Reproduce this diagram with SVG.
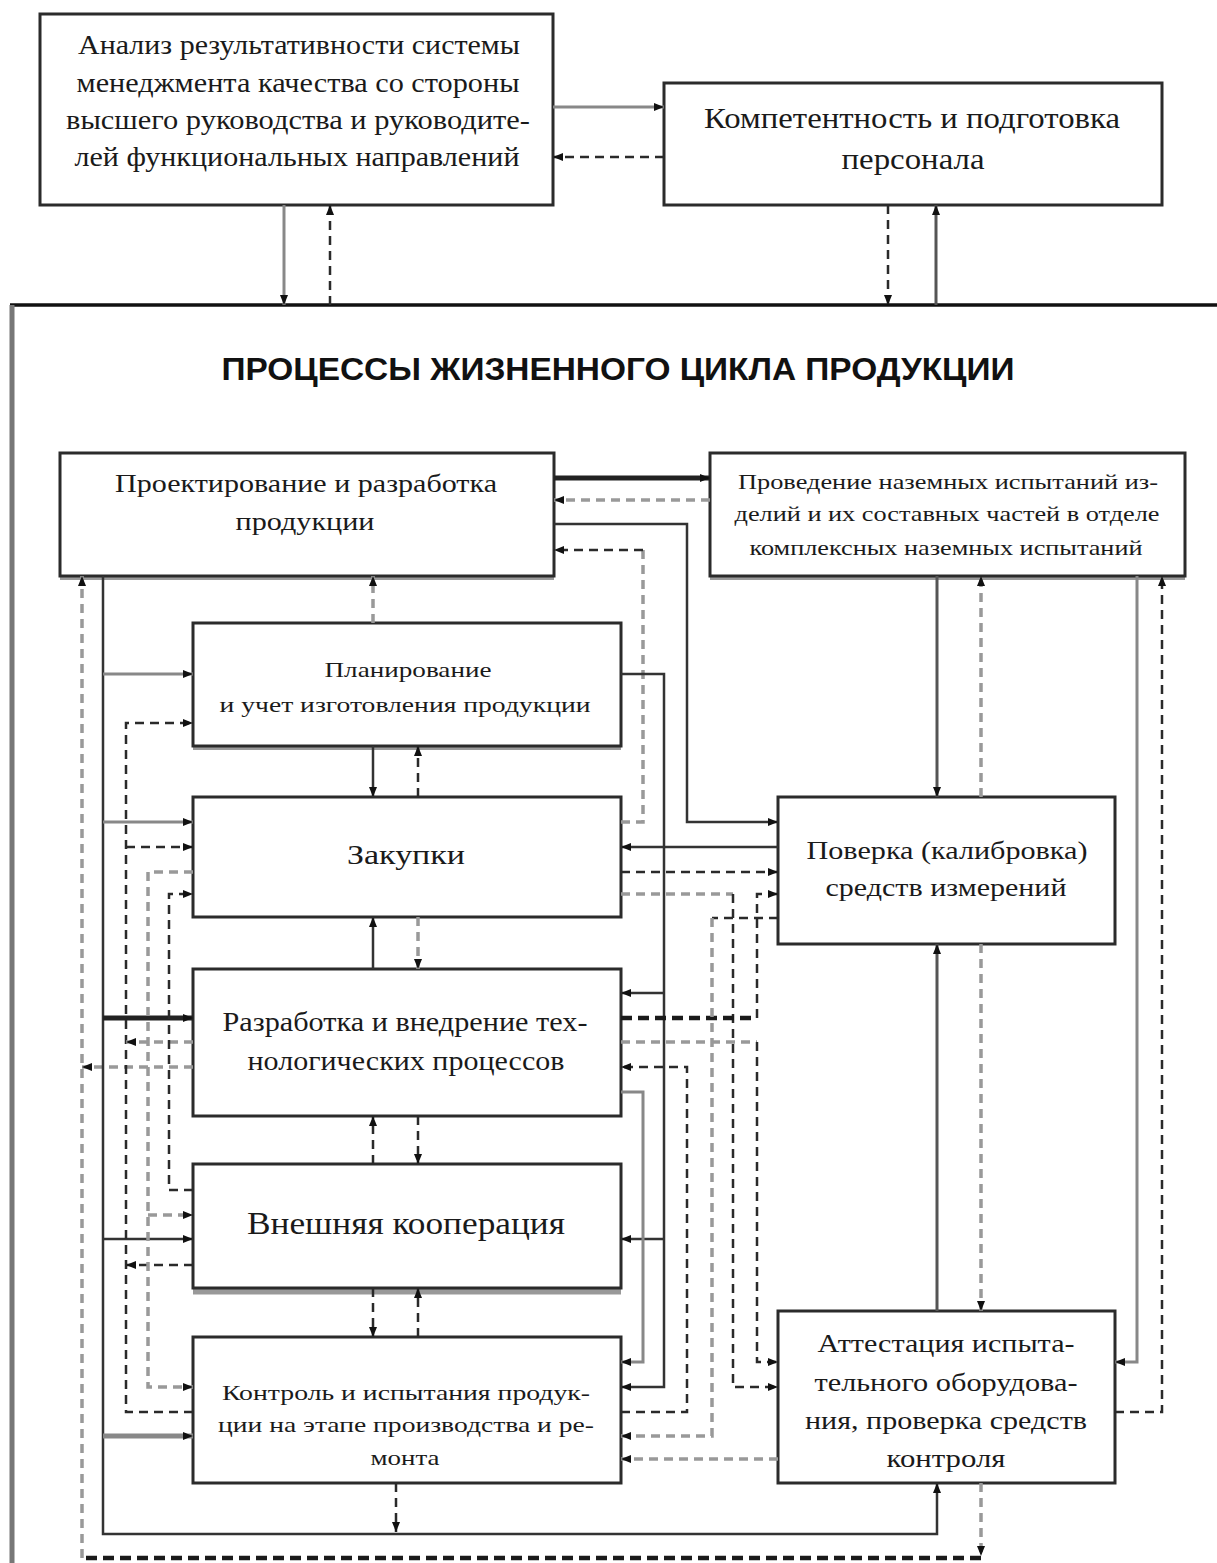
<svg xmlns="http://www.w3.org/2000/svg" width="1217" height="1563" viewBox="0 0 1217 1563">
<style>
.box{fill:#fff;stroke:#2b2b2b;stroke-width:3}
.sh{stroke:#9a9a9a;stroke-width:4;fill:none}
.t{font-family:"Liberation Serif","Times New Roman",serif;fill:#1a1a1a;text-anchor:middle}
.ttl{font-family:"Liberation Sans",Arial,sans-serif;font-weight:bold;fill:#111;text-anchor:middle}
.s1{stroke:#333;stroke-width:2.5;fill:none}
.s2{stroke:#555;stroke-width:3;fill:none}
.g1{stroke:#888;stroke-width:3;fill:none}
.d1{stroke:#2a2a2a;stroke-width:2.5;stroke-dasharray:9 6;fill:none}
.gd{stroke:#999;stroke-width:3.5;stroke-dasharray:9 6;fill:none}
.tk{stroke:#222;stroke-width:5;fill:none}
.tkd{stroke:#1a1a1a;stroke-width:4.5;stroke-dasharray:11 6;fill:none}
.tg{stroke:#888;stroke-width:5;fill:none}
</style>
<defs>
<marker id="ar" viewBox="0 0 10 10" refX="10" refY="5" markerWidth="10" markerHeight="10" markerUnits="userSpaceOnUse" orient="auto"><path d="M0,1 L10,5 L0,9 z" fill="#111"/></marker>
</defs>
<rect width="1217" height="1563" fill="#fff"/>

<g id="frame">
<path d="M10,305 H1217" stroke="#111" stroke-width="3.5" fill="none"/>
<path d="M12,305 V1563" stroke="#777" stroke-width="5" fill="none"/>
<text class="ttl" x="618" y="380" font-size="32" textLength="793" lengthAdjust="spacingAndGlyphs">ПРОЦЕССЫ ЖИЗНЕННОГО ЦИКЛА ПРОДУКЦИИ</text>
</g>

<g id="node-analysis">
<rect class="box" x="40" y="14" width="513" height="191"/>
<text class="t" font-size="27"><tspan x="299" y="54" textLength="442" lengthAdjust="spacingAndGlyphs">Анализ результативности системы</tspan><tspan x="298" y="92" textLength="443" lengthAdjust="spacingAndGlyphs">менеджмента качества со стороны</tspan><tspan x="298" y="129" textLength="464" lengthAdjust="spacingAndGlyphs">высшего руководства и руководите-</tspan><tspan x="297" y="166" textLength="445" lengthAdjust="spacingAndGlyphs">лей функциональных направлений</tspan></text>
</g>

<g id="node-competence">
<rect class="box" x="664" y="83" width="498" height="122"/>
<text class="t" font-size="29"><tspan x="912" y="128" textLength="416" lengthAdjust="spacingAndGlyphs">Компетентность и подготовка</tspan><tspan x="913" y="169" textLength="143" lengthAdjust="spacingAndGlyphs">персонала</tspan></text>
</g>

<g id="node-design">
<path class="sh" d="M60,578 H554"/>
<rect class="box" x="60" y="453" width="494" height="123"/>
<text class="t" font-size="26"><tspan x="306" y="492" textLength="382" lengthAdjust="spacingAndGlyphs">Проектирование и разработка</tspan><tspan x="305" y="530" textLength="139" lengthAdjust="spacingAndGlyphs">продукции</tspan></text>
</g>

<g id="node-ground-tests">
<path class="sh" d="M710,578 H1185"/>
<rect class="box" x="710" y="453" width="475" height="123"/>
<text class="t" font-size="22"><tspan x="948" y="489" textLength="420" lengthAdjust="spacingAndGlyphs">Проведение наземных испытаний из-</tspan><tspan x="947" y="521" textLength="425" lengthAdjust="spacingAndGlyphs">делий и их составных частей в отделе</tspan><tspan x="946" y="555" textLength="393" lengthAdjust="spacingAndGlyphs">комплексных наземных испытаний</tspan></text>
</g>

<g id="node-planning">
<path class="sh" d="M193,748 H621"/>
<rect class="box" x="193" y="623" width="428" height="123"/>
<text class="t" font-size="22"><tspan x="408" y="677" textLength="167" lengthAdjust="spacingAndGlyphs">Планирование</tspan><tspan x="405" y="712" textLength="371" lengthAdjust="spacingAndGlyphs">и учет изготовления продукции</tspan></text>
</g>

<g id="node-purchasing">
<rect class="box" x="193" y="797" width="428" height="120"/>
<text class="t" font-size="28" x="406" y="864" textLength="118" lengthAdjust="spacingAndGlyphs">Закупки</text>
</g>

<g id="node-tech-processes">
<rect class="box" x="193" y="969" width="428" height="147"/>
<text class="t" font-size="27"><tspan x="405" y="1031" textLength="365" lengthAdjust="spacingAndGlyphs">Разработка и внедрение тех-</tspan><tspan x="406" y="1070" textLength="317" lengthAdjust="spacingAndGlyphs">нологических процессов</tspan></text>
</g>

<g id="node-cooperation">
<path d="M193,1291 H621" stroke="#999" stroke-width="7" fill="none"/>
<rect class="box" x="193" y="1164" width="428" height="124"/>
<text class="t" font-size="31" x="406" y="1234" textLength="318" lengthAdjust="spacingAndGlyphs">Внешняя кооперация</text>
</g>

<g id="node-control">
<rect class="box" x="193" y="1337" width="428" height="146"/>
<text class="t" font-size="21"><tspan x="406" y="1400" textLength="368" lengthAdjust="spacingAndGlyphs">Контроль и испытания продук-</tspan><tspan x="406" y="1432" textLength="376" lengthAdjust="spacingAndGlyphs">ции на этапе производства и ре-</tspan><tspan x="405" y="1465" textLength="69" lengthAdjust="spacingAndGlyphs">монта</tspan></text>
</g>

<g id="node-calibration">
<rect class="box" x="778" y="797" width="337" height="147"/>
<text class="t" font-size="26"><tspan x="947" y="859" textLength="281" lengthAdjust="spacingAndGlyphs">Поверка (калибровка)</tspan><tspan x="946" y="896" textLength="241" lengthAdjust="spacingAndGlyphs">средств измерений</tspan></text>
</g>

<g id="node-certification">
<rect class="box" x="778" y="1311" width="337" height="172"/>
<text class="t" font-size="26"><tspan x="946" y="1352" textLength="257" lengthAdjust="spacingAndGlyphs">Аттестация испыта-</tspan><tspan x="946" y="1391" textLength="263" lengthAdjust="spacingAndGlyphs">тельного оборудова-</tspan><tspan x="946" y="1429" textLength="282" lengthAdjust="spacingAndGlyphs">ния, проверка средств</tspan><tspan x="946" y="1467" textLength="119" lengthAdjust="spacingAndGlyphs">контроля</tspan></text>
</g>

<g id="connectors">
<!-- top -->
<path class="g1" d="M553,107 H664" marker-end="url(#ar)"/>
<path class="d1" d="M664,157 H553" marker-end="url(#ar)"/>
<path class="g1" d="M284,205 V305" marker-end="url(#ar)"/>
<path class="d1" d="M330,305 V205" marker-end="url(#ar)"/>
<path class="d1" d="M888,205 V305" marker-end="url(#ar)"/>
<path class="s2" d="M936,305 V205" marker-end="url(#ar)"/>

<!-- design / ground tests -->
<path class="tk" d="M554,478 H710" marker-end="url(#ar)"/>
<path class="gd" d="M710,500 H554" marker-end="url(#ar)"/>
<path class="s1" d="M554,524 H687 V822 H778" marker-end="url(#ar)"/>
<path class="gd" d="M621,822 H643 V550"/>
<path class="d1" d="M643,550 H554" marker-end="url(#ar)"/>

<!-- planning bus x664 -->
<path class="s1" d="M621,674 H664 V1387 H621" marker-end="url(#ar)"/>
<path class="s1" d="M664,993 H621" marker-end="url(#ar)"/>
<path class="s1" d="M664,1239 H621" marker-end="url(#ar)"/>

<!-- purchasing / calibration -->
<path class="s1" d="M778,847 H621" marker-end="url(#ar)"/>
<path class="d1" d="M621,872 H778" marker-end="url(#ar)"/>
<path class="gd" d="M621,894 H733"/>
<path class="d1" d="M733,894 V1387 H778" marker-end="url(#ar)"/>
<path class="tkd" d="M621,1018 H757"/>
<path class="d1" d="M757,1018 V894 H778" marker-end="url(#ar)"/>
<path class="gd" d="M621,1042 H757"/>
<path class="d1" d="M757,1042 V1362 H778" marker-end="url(#ar)"/>
<path class="d1" d="M778,918 H712"/>
<path class="gd" d="M712,918 V1436 H621" stroke-width="4" marker-end="url(#ar)"/>
<path class="d1" d="M621,1412 H687 V1067 H621" marker-end="url(#ar)"/>
<path class="g1" d="M621,1092 H643 V1362 H621" marker-end="url(#ar)"/>
<path class="gd" d="M778,1459 H621" stroke-width="2.5" stroke="#777" marker-end="url(#ar)"/>

<!-- right side -->
<path class="s2" d="M937,576 V797" marker-end="url(#ar)"/>
<path class="gd" d="M981,797 V576" marker-end="url(#ar)"/>
<path class="s2" d="M937,1311 V944" marker-end="url(#ar)"/>
<path class="gd" d="M981,944 V1311" marker-end="url(#ar)"/>
<path class="g1" d="M1137,576 V1362 H1115" stroke="#777" marker-end="url(#ar)"/>
<path class="d1" d="M1115,1412 H1162 V576" stroke="#111" marker-end="url(#ar)"/>

<!-- outer loop -->
<path class="gd" d="M981,1483 V1556" marker-end="url(#ar)"/>
<path class="tkd" d="M981,1558 H82"/>
<path class="gd" d="M82,1558 V576" stroke-width="4" marker-end="url(#ar)"/>
<path class="gd" d="M193,1067 H82" marker-end="url(#ar)"/>

<!-- design bus x103 -->
<path class="s1" d="M103,576 V1534 H937 V1483" stroke-width="3" marker-end="url(#ar)"/>
<path class="g1" d="M103,674 H193" stroke-width="2.5" stroke="#777" marker-end="url(#ar)"/>
<path class="g1" d="M103,822 H193" marker-end="url(#ar)"/>
<path class="tk" d="M103,1018 H193" marker-end="url(#ar)"/>
<path class="s1" d="M103,1239 H193" marker-end="url(#ar)"/>
<path class="tg" d="M103,1436 H193" marker-end="url(#ar)"/>
<path class="d1" d="M396,1483 V1532" stroke="#111" marker-end="url(#ar)"/>

<!-- bus x126 -->
<path class="d1" d="M193,1412 H126 V723 H193" marker-end="url(#ar)"/>
<path class="d1" d="M126,847 H193" marker-end="url(#ar)"/>
<path class="gd" d="M193,1042 H126" stroke-width="2.5" stroke="#777" marker-end="url(#ar)"/>
<path class="d1" d="M193,1265 H126" marker-end="url(#ar)"/>

<!-- bus x148 -->
<path class="gd" d="M193,872 H148 V1387 H193" marker-end="url(#ar)"/>
<path class="gd" d="M148,1215 H193" marker-end="url(#ar)"/>

<!-- bus x169 -->
<path class="d1" d="M193,1190 H169 V894 H193" marker-end="url(#ar)"/>

<!-- stacked verticals -->
<path class="gd" d="M373,623 V576" stroke-width="2.5" stroke="#777" marker-end="url(#ar)"/>
<path class="s1" d="M373,746 V797" marker-end="url(#ar)"/>
<path class="d1" d="M418,797 V746" marker-end="url(#ar)"/>
<path class="s1" d="M373,969 V917" marker-end="url(#ar)"/>
<path class="gd" d="M418,917 V969" marker-end="url(#ar)"/>
<path class="d1" d="M373,1164 V1116" marker-end="url(#ar)"/>
<path class="d1" d="M418,1116 V1164" marker-end="url(#ar)"/>
<path class="d1" d="M373,1288 V1337" marker-end="url(#ar)"/>
<path class="d1" d="M418,1337 V1288" marker-end="url(#ar)"/>
</g>
</svg>
